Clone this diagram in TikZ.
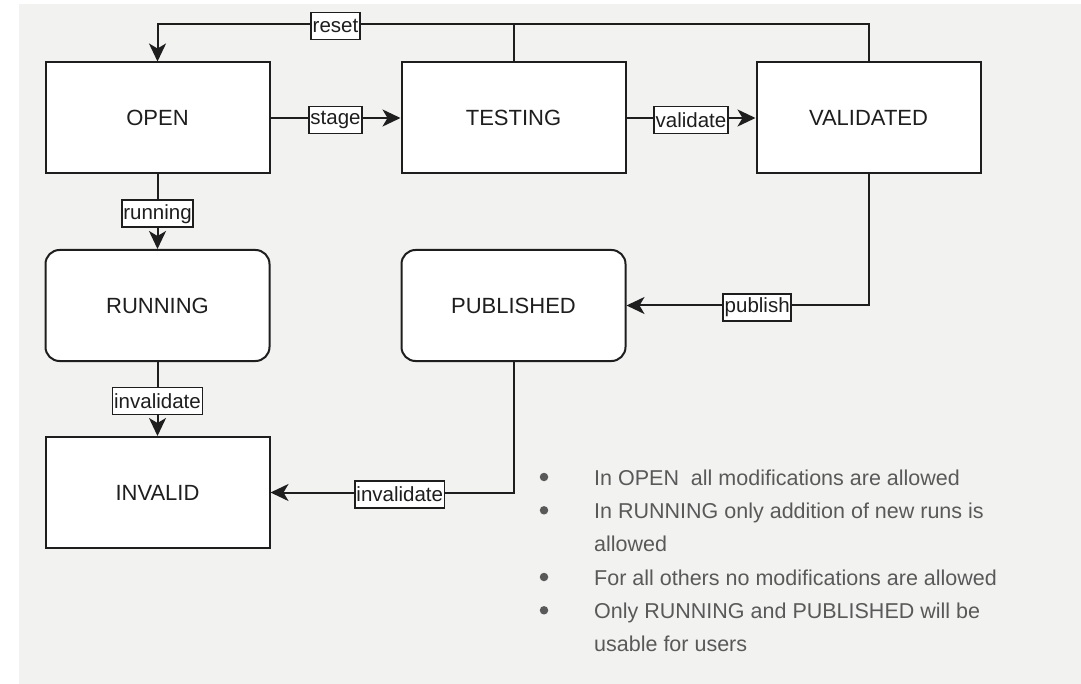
\documentclass[tikz,border=0pt]{standalone}
\usepackage{fontspec}
\setmainfont{Liberation Sans}
\usetikzlibrary{arrows.meta}

\definecolor{panel}{HTML}{F2F2F1}
\definecolor{ink}{HTML}{1E1E1E}
\definecolor{note}{HTML}{595959}

\tikzset{
  state/.style={draw=ink, line width=2pt, fill=white, minimum width=224pt,
    minimum height=111pt, inner sep=0pt, text=ink,
    font=\fontsize{22}{26}\selectfont},
  roundstate/.style={state, rounded corners=14pt},
  flow/.style={draw=ink, line width=2pt,
    -{Stealth[length=18pt, width=17pt, inset=5pt]}},
  plain/.style={draw=ink, line width=2pt},
  lab/.style={draw=ink, line width=1.5pt, fill=white, text=ink,
    inner xsep=1.5pt, inner ysep=0pt, minimum height=27pt, yshift=-2pt,
    font=\fontsize{20.5}{22}\selectfont},
  notetext/.style={anchor=base west, text=note, inner sep=0pt,
    font=\fontsize{21.5}{24}\selectfont},
  dot/.style={fill=note, draw=none, circle, minimum size=8.5pt, inner sep=0pt}
}

\begin{document}
\begin{tikzpicture}[x=1pt, y=-1pt]
  % page and grey panel
  \useasboundingbox (0,0) rectangle (1081,684);
  \fill[panel] (19,4) rectangle (1081,684);

  % states
  \node[state]      (open) at (157.5,118)   {OPEN};
  \node[state]      (test) at (513.5,118)   {TESTING};
  \node[state]      (val)  at (868.5,118)   {VALIDATED};
  \node[roundstate] (run)  at (157.5,305.5) {RUNNING};
  \node[roundstate] (pub)  at (513.5,305.5) {PUBLISHED};
  \node[state]      (inv)  at (157.5,492.5) {INVALID};

  % level of the reset bus above the top row
  \coordinate (bus) at (0,24);

  % transitions
  \draw[flow] (val.north) |- (test.north |- bus) -- (open.north |- bus)
      node[lab, midway] {reset} -- (open.north);
  \draw[plain] (test.north) -- (test.north |- bus);
  \draw[flow] (open.east) -- node[lab] {stage} (test.west);
  \draw[flow] (test.east) -- node[lab] {validate} (val.west);
  \draw[flow] (open.south) -- node[lab] {running} (run.north);
  \draw[flow] (val.south) |- node[lab, pos=0.73] {publish} (pub.east);
  \draw[flow] (run.south) -- node[lab] {invalidate} (inv.north);
  \draw[flow] (pub.south) |- node[lab, pos=0.734] {invalidate} (inv.east);

  % notes on what each state permits
  \node[dot] (b1) at (544,477) {};
  \node[dot] (b2) at (544,510.3) {};
  \node[dot] (b3) at (544,577) {};
  \node[dot] (b4) at (544,610.3) {};
  \node[notetext] (n1) at (594,485)   {In OPEN\ \ all modifications are allowed};
  \node[notetext] (n2) at (594,518.3) {In RUNNING only addition of new runs is};
  \node[notetext] (n3) at (594,551.7) {allowed};
  \node[notetext] (n4) at (594,585)   {For all others no modifications are allowed};
  \node[notetext] (n5) at (594,618.3) {Only RUNNING and PUBLISHED will be};
  \node[notetext] (n6) at (594,651.7) {usable for users};
\end{tikzpicture}
\end{document}
